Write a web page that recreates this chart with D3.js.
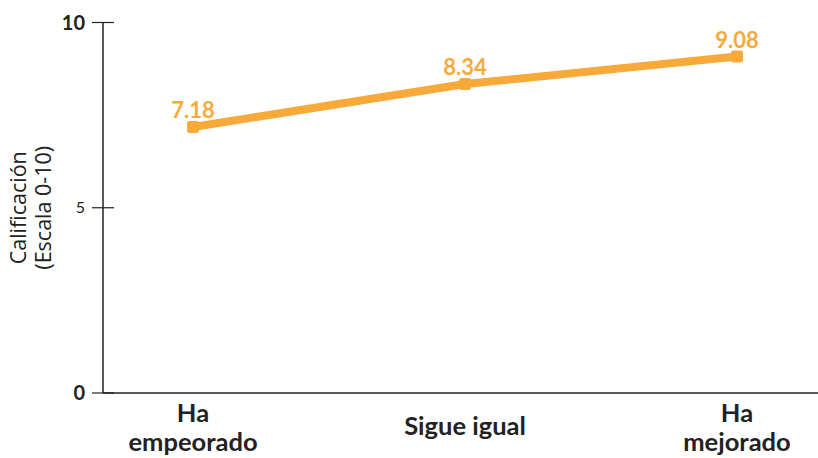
<!DOCTYPE html>
<html><head><meta charset="utf-8">
<script src="https://cdn.jsdelivr.net/npm/d3@7"></script>
<style>body{margin:0;background:#fff}svg{display:block}</style>
</head><body><svg id="c" width="818" height="458"></svg>
<script>
const categories = [["Ha","empeorado"],["Sigue igual"],["Ha","mejorado"]];
const values = [7.18, 8.34, 9.08];
const yTicks = [0, 5, 10];
const color = "#F7AA3A";

const svg = d3.select("#c");
const x0 = 103, x1 = 818, yTop = 22.5, yBot = 393;
const x = d3.scalePoint().domain(d3.range(categories.length)).range([193, 737]);
const y = d3.scaleLinear().domain([0, 10]).range([yBot, yTop]);

// axes lines
svg.append("line").attr("x1", x0).attr("x2", x1).attr("y1", yBot).attr("y2", yBot)
  .attr("stroke", "#222").attr("stroke-width", 1.5);
svg.append("line").attr("x1", x0).attr("x2", x0).attr("y1", yTop).attr("y2", yBot)
  .attr("stroke", "#222").attr("stroke-width", 1.5);

const yAxis = svg.append("g");
yTicks.forEach(t => {
  yAxis.append("line").attr("x1", x0 - 11).attr("x2", x0 + 11).attr("y1", y(t)).attr("y2", y(t))
    .attr("stroke", "#222").attr("stroke-width", 1.2);
  const bold = t !== 5;
  yAxis.append("text").attr("x", x0 - 18).attr("y", y(t)).attr("dy", "0.35em")
    .attr("text-anchor", "end")
    .style("font-family", "Lato, sans-serif")
    .style("font-size", bold ? "20px" : "16px")
    .style("font-weight", bold ? "700" : "400")
    .attr("fill", "#222").text(t);
});

// y title
const yt = svg.append("text").attr("transform", `translate(26,${(yTop + yBot) / 2}) rotate(-90)`)
  .attr("text-anchor", "middle")
  .style("font-family", "'Open Sans', sans-serif").style("font-size", "21.5px").attr("fill", "#222");
yt.append("tspan").attr("x", 0).attr("y", 0).text("Calificación");
yt.append("tspan").attr("x", 0).attr("y", 25).text("(Escala 0-10)");

// x labels
categories.forEach((c, i) => {
  const ys = c.length === 1 ? [435] : [422, 451];
  c.forEach((s, j) => {
    svg.append("text").attr("text-anchor", "middle")
      .attr("x", x(i)).attr("y", ys[j])
      .style("font-family", "Lato, sans-serif").style("font-size", "25.5px").style("font-weight", "700")
      .attr("fill", "#222").text(s);
  });
});

// line
const line = d3.line().x((d, i) => x(i)).y(d => y(d));
svg.append("path").datum(values).attr("d", line).attr("fill", "none")
  .attr("stroke", color).attr("stroke-width", 8).attr("stroke-linejoin", "round");
svg.selectAll("rect.m").data(values).join("rect").attr("class", "m")
  .attr("x", (d, i) => x(i) - 6).attr("y", d => y(d) - 6)
  .attr("width", 12).attr("height", 12).attr("rx", 2.5).attr("fill", color);
svg.selectAll("text.v").data(values).join("text").attr("class", "v")
  .attr("x", (d, i) => x(i)).attr("y", d => y(d) - 9)
  .attr("text-anchor", "middle")
  .style("font-family", "Lato, sans-serif").style("font-size", "22px").style("font-weight", "700")
  .attr("fill", color).text(d => d.toFixed(2));
</script></body></html>
